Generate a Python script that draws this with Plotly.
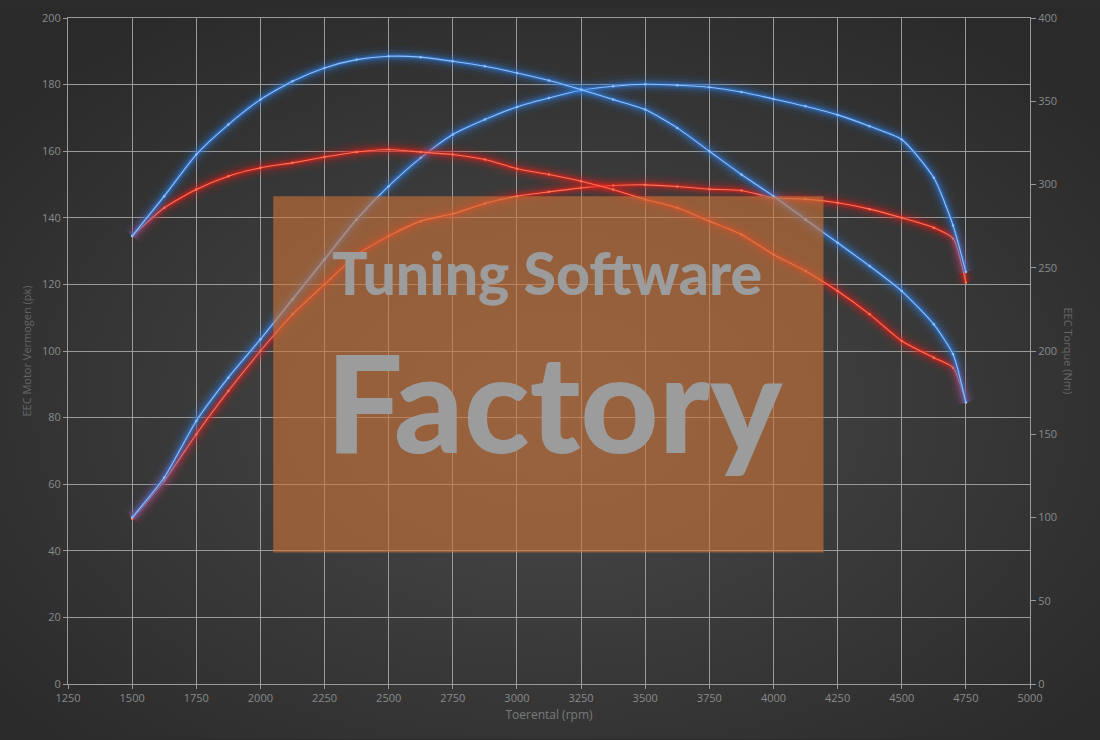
import base64
import plotly.graph_objects as go

# toerental (rpm)
rpm = [1500, 1625, 1750, 1875, 2000, 2125, 2250, 2375, 2500, 2625, 2750, 2875,
       3000, 3125, 3250, 3375, 3500, 3625, 3750, 3875, 4000, 4125, 4250, 4375,
       4500, 4625, 4700, 4750]

# vermogen (pk) - getuned / origineel
power_tuned = [50, 62, 79, 92, 103.5, 115.5, 127.5, 139.5, 149.5, 158, 165, 169.5,
               173.3, 176, 178.3, 179.5, 180.1, 179.8, 179.2, 177.8, 175.7, 173.5, 170.9, 167.5,
               163.5, 152, 137.7, 123.7]
power_stock = [49.6, 61, 75, 88, 100, 111, 120, 128.8, 134.5, 139, 141.2, 144.3,
               146.5, 147.8, 149, 149.7, 149.9, 149.4, 148.6, 148.2, 146, 145.6, 144.5, 142.6,
               140, 137, 133.8, 120.5]

# koppel (Nm) - getuned / origineel
torque_tuned = [269, 293, 318, 336, 351, 362, 370, 375, 377, 376.5, 374, 371,
                367, 362.5, 357, 351, 345, 334, 320, 306, 293, 279, 265, 251,
                236, 216, 198, 169]
torque_stock = [269, 286, 297, 305, 310, 313, 316.5, 319.5, 321, 319.5, 318, 315,
                309.5, 306, 302, 297, 291, 286, 278, 270, 258, 248, 236, 222,
                206, 196, 190, 169]

x_ticks = list(range(1250, 5001, 250))
W, H = 1100, 740
L, R, T, B = 68, 70, 10, 56

BLUE_GLOW = "#2f7de0"
BLUE_CORE = "#8fc0ff"
RED_GLOW = "#e3201a"
RED_CORE = "#ff7355"


def glow_traces(x, y, glow, core, yaxis):
    out = []
    for w, op in [(20, 0.06), (13, 0.12), (8, 0.22), (4, 0.45)]:
        out.append(go.Scatter(x=x, y=y, mode="lines", yaxis=yaxis, opacity=op,
                              line=dict(color=glow, width=w, shape="spline", smoothing=0.6),
                              hoverinfo="skip", showlegend=False))
    out.append(go.Scatter(x=x, y=y, mode="lines+markers", yaxis=yaxis,
                          line=dict(color=core, width=1.1, shape="spline", smoothing=0.6),
                          marker=dict(size=2.5, color=core),
                          showlegend=False))
    return out


fig = go.Figure()
for tr in glow_traces(rpm, power_stock, RED_GLOW, RED_CORE, "y"):
    fig.add_trace(tr)
for tr in glow_traces(rpm, torque_stock, RED_GLOW, RED_CORE, "y2"):
    fig.add_trace(tr)
for tr in glow_traces(rpm, power_tuned, BLUE_GLOW, BLUE_CORE, "y"):
    fig.add_trace(tr)
for tr in glow_traces(rpm, torque_tuned, BLUE_GLOW, BLUE_CORE, "y2"):
    fig.add_trace(tr)

# radial gradient background
svg = f'''<svg xmlns="http://www.w3.org/2000/svg" width="{W}" height="{H}" preserveAspectRatio="none">
<defs><radialGradient id="g" cx="50%" cy="55%" r="65%">
<stop offset="0%" stop-color="#4a4a4a"/><stop offset="100%" stop-color="#2a2a2a"/>
</radialGradient></defs><rect width="100%" height="100%" fill="url(#g)"/></svg>'''
bg_src = "data:image/svg+xml;base64," + base64.b64encode(svg.encode()).decode()
pw, ph = W - L - R, H - T - B

grid = "#9a9a9a"
tick_font = dict(family="Open Sans, DejaVu Sans, sans-serif", size=11, color="#8a8a8a")

fig.update_layout(
    width=W, height=H,
    margin=dict(l=L, r=R, t=T, b=B),
    paper_bgcolor="#2c2c2c",
    plot_bgcolor="rgba(0,0,0,0)",
    showlegend=False,
    images=[dict(source=bg_src, xref="paper", yref="paper",
                 x=-L / pw, y=1 + T / ph, sizex=W / pw, sizey=H / ph,
                 sizing="stretch", layer="below", xanchor="left", yanchor="top")],
    xaxis=dict(range=[1250, 5000], tickvals=x_ticks, showgrid=True, gridcolor=grid, gridwidth=1,
               ticks="outside", ticklen=4, tickcolor=grid, showline=True, linecolor=grid,
               mirror=True, zeroline=False, tickfont=tick_font,
               title=dict(text="Toerental (rpm)", standoff=6,
                          font=dict(family="Open Sans, sans-serif", size=12, color="#7a7a7a"))),
    yaxis=dict(range=[0, 200], dtick=20, showgrid=True, gridcolor=grid, gridwidth=1,
               ticks="outside", ticklen=4, tickcolor=grid, showline=True, linecolor=grid,
               zeroline=False, tickfont=tick_font,
               title=dict(text="EEC Motor Vermogen (pk)", standoff=8,
                          font=dict(family="Open Sans, sans-serif", size=11, color="#666666"))),
    yaxis2=dict(range=[0, 400], dtick=50, overlaying="y", side="right", showgrid=False,
                ticks="outside", ticklen=5, tickcolor=grid, showline=True, linecolor=grid,
                zeroline=False, tickfont=tick_font),
)

# watermark
fig.add_shape(type="rect", xref="x", yref="y", x0=2050, x1=4195, y0=39.5, y1=146.5,
              fillcolor="rgba(207,116,57,0.6)", line=dict(width=0), layer="above")
wm_font = "Lato, Roboto, Liberation Sans, sans-serif"
fig.add_annotation(x=3117, y=123.6, xref="x", yref="y", text="Tuning Software",
                   showarrow=False, font=dict(family=wm_font, size=59, color="#9c9c9c", weight=900))
fig.add_annotation(x=3147, y=85.0, xref="x", yref="y", text="Factory",
                   showarrow=False, font=dict(family=wm_font, size=136, color="#9c9c9c", weight=900))

fig.add_annotation(x=(1078 - L) / pw, y=(H - B - 347) / ph, xref="paper", yref="paper",
                   text="EEC Torque (Nm)", textangle=90, showarrow=False,
                   font=dict(family="Open Sans, sans-serif", size=11, color="#666666"))

fig.write_html("out.html", config={"displayModeBar": False},
               post_script="document.body.style.margin='0';")
